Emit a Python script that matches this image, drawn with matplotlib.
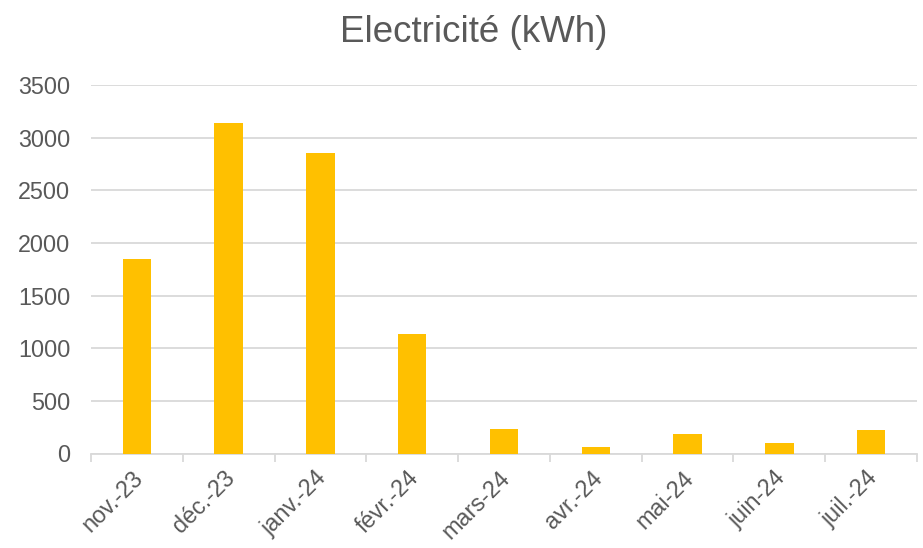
import matplotlib.pyplot as plt
import numpy as np

plt.rcParams['font.family'] = ['Liberation Sans', 'DejaVu Sans']

months = ["nov.-23", "déc.-23", "janv.-24", "févr.-24", "mars-24", "avr.-24", "mai-24", "juin-24", "juil.-24"]
kwh = [1845, 3140, 2855, 1135, 228, 58, 185, 104, 224]
yticks = [0, 500, 1000, 1500, 2000, 2500, 3000, 3500]

txt = "#595959"
grid = "#d9d9d9"

fig = plt.figure(figsize=(9.23, 5.48), dpi=100)
ax = fig.add_axes([91/923, 1-453.5/548, (917-91)/923, (453.5-85)/548])

x = np.arange(len(months))
ax.bar(x, kwh, width=0.31, color="#FFC000", zorder=3)

ax.set_xlim(-0.5, len(months)-0.5)
ax.set_ylim(0, 3500)
ax.set_yticks(yticks)
ax.set_yticklabels([str(v) for v in yticks], fontsize=16.8, color=txt)
ax.yaxis.grid(True, color=grid, linewidth=1.3, zorder=0)
ax.tick_params(axis='y', length=0, pad=15)

# category boundary ticks on x axis
ax.set_xticks(np.arange(-0.5, len(months)), minor=False)
ax.set_xticklabels([])
ax.tick_params(axis='x', length=6, width=1.3, color=grid, direction='out')
for i, m in enumerate(months):
    ax.text(i - 0.06, -0.035, m, rotation=45, ha='right', va='top', rotation_mode='anchor',
            fontsize=16.8, color=txt, transform=ax.get_xaxis_transform(), clip_on=False)

for s in ['top', 'right', 'left']:
    ax.spines[s].set_visible(False)
ax.spines['bottom'].set_color(grid)
ax.spines['bottom'].set_linewidth(1.3)

fig.text(474/923, 1-33/548, "Electricité (kWh)", ha='center', va='center', fontsize=26.5, color=txt)

fig.savefig("out.png", dpi=100, facecolor="white")
